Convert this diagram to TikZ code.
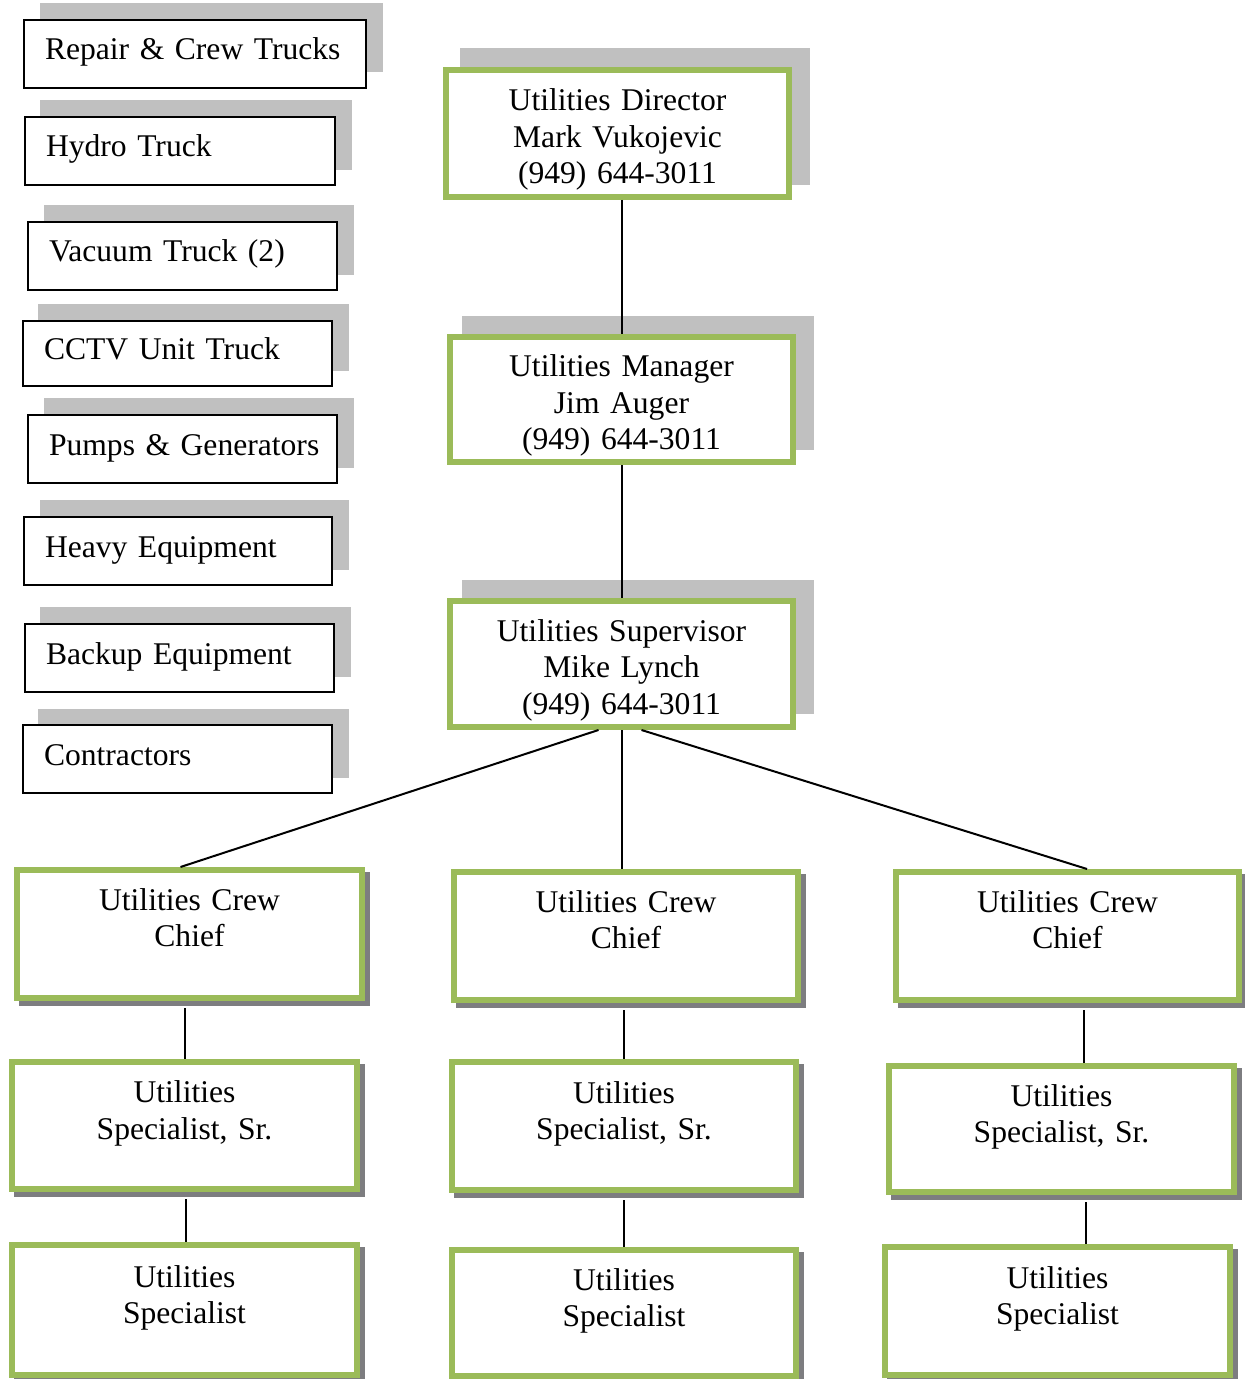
\documentclass[tikz,border=0pt]{standalone}
\usepackage{fontspec}
\setmainfont{Liberation Serif}
\usetikzlibrary{calc}
\definecolor{grn}{RGB}{155,187,89}
\definecolor{shlt}{RGB}{192,192,192}
\definecolor{shdk}{RGB}{125,125,128}
\begin{document}
\begin{tikzpicture}[x=0.5pt,y=-0.5pt,
  txt/.style={font=\fontsize{15.8}{18.2}\selectfont},
  eqbox/.style={txt, draw=black, line width=1.2pt, fill=white, rectangle,
    inner xsep=0pt, inner ysep=0pt, minimum height=34pt, text width=#1,
    align=left, text height=10pt, text depth=4pt},
  gbox/.style={txt, draw=grn, line width=3pt, fill=white, rectangle,
    inner sep=0pt, text width=#1, align=center, text height=18pt},
  shl/.style={fill=shlt},
  shd/.style={fill=shdk},
  conn/.style={draw=black, line width=1pt}]
\useasboundingbox (0,0) rectangle (1244,1379);
\fill[white] (0,0) rectangle (1244,1379);

% ---- shadows of equipment boxes
\fill[shl] (40,3) rectangle (383,72);
\fill[shl] (40,100) rectangle (352,170);
\fill[shl] (44,205) rectangle (354,275);
\fill[shl] (38,304) rectangle (349,371);
\fill[shl] (44,398) rectangle (354,468);
\fill[shl] (40,500) rectangle (349,570);
\fill[shl] (40,607) rectangle (351,677);
\fill[shl] (38,709) rectangle (349,778);

% ---- shadows of upper green boxes
\fill[shl] (460,48) rectangle (810,185);
\fill[shl] (462,316) rectangle (814,450);
\fill[shl] (462,580) rectangle (814,714);

% ---- shadows of lower green boxes
\fill[shd] (19,872) rectangle (370,1006);
\fill[shd] (456,874) rectangle (806,1008);
\fill[shd] (898,874) rectangle (1247,1008);
\fill[shd] (14,1064) rectangle (365,1197);
\fill[shd] (454,1064) rectangle (804,1198);
\fill[shd] (891,1068) rectangle (1242,1200);
\fill[shd] (14,1247) rectangle (365,1385);
\fill[shd] (454,1252) rectangle (804,1385);
\fill[shd] (887,1249) rectangle (1238,1385);

% ---- equipment boxes
\node[eqbox=171pt] (e1) at (195,54) {\hspace*{10.5pt}\mbox{Repair \& Crew Trucks}};
\node[eqbox=155pt] (e2) at (180,151) {\hspace*{10.5pt}\mbox{Hydro Truck}};
\node[eqbox=154.5pt] (e3) at (182.5,256) {\hspace*{10.5pt}\mbox{Vacuum Truck (2)}};
\node[eqbox=154.5pt, minimum height=32.5pt] (e4) at (177.5,353.5) {\hspace*{10.5pt}\mbox{CCTV Unit Truck}};
\node[eqbox=154.5pt] (e5) at (182.5,449) {\hspace*{10.5pt}\mbox{Pumps \& Generators}};
\node[eqbox=154pt] (e6) at (178,551) {\hspace*{10.5pt}\mbox{Heavy Equipment}};
\node[eqbox=154.5pt] (e7) at (179.5,658) {\hspace*{10.5pt}\mbox{Backup Equipment}};
\node[eqbox=154.5pt] (e8) at (177.5,759) {\hspace*{10.5pt}\mbox{Contractors}};

% ---- management boxes
\node[gbox=171.5pt, minimum height=63.5pt, text height=17pt] (dir) at (617.5,133.5)
  {Utilities Director\\Mark Vukojevic\\(949) 644-3011};
\node[gbox=171.5pt, minimum height=62.5pt, text height=17pt] (man) at (621.5,399.5)
  {Utilities Manager\\Jim Auger\\(949) 644-3011};
\node[gbox=171.5pt, minimum height=63pt, text height=17pt] (sup) at (621.5,664)
  {Utilities Supervisor\\Mike Lynch\\(949) 644-3011};

% ---- crew chiefs
\node[gbox=172.5pt, minimum height=64pt] (c1) at (189.5,934)
  {Utilities Crew\\Chief\\\strut};
\node[gbox=172pt, minimum height=64pt] (c2) at (626,936)
  {Utilities Crew\\Chief\\\strut};
\node[gbox=171.5pt, minimum height=64pt] (c3) at (1067.5,936)
  {Utilities Crew\\Chief\\\strut};

% ---- senior specialists
\node[gbox=172.5pt, minimum height=63.5pt, text height=19pt] (s1) at (184.5,1125.5)
  {Utilities\\Specialist, Sr.\\\strut};
\node[gbox=172pt, minimum height=64pt, text height=19pt] (s2) at (624,1126)
  {Utilities\\Specialist, Sr.\\\strut};
\node[gbox=172.5pt, minimum height=63pt, text height=19pt] (s3) at (1061.5,1129)
  {Utilities\\Specialist, Sr.\\\strut};

% ---- specialists
\node[gbox=172.5pt, minimum height=65pt, text height=19pt] (p1) at (184.5,1310)
  {Utilities\\Specialist\\\strut};
\node[gbox=172pt, minimum height=63pt, text height=19pt] (p2) at (624,1313)
  {Utilities\\Specialist\\\strut};
\node[gbox=172.5pt, minimum height=64pt, text height=19pt] (p3) at (1057.5,1311)
  {Utilities\\Specialist\\\strut};

% ---- connectors
\draw[conn] (man.north |- dir.south) -- (man.north);
\draw[conn] (man.south) -- (sup.north);
\draw[conn] ($(sup.south)+(-23,0)$) -- ($(c1.north)+(-9,0)$);
\draw[conn] (sup.south) -- (sup.south |- c2.north);
\draw[conn] ($(sup.south)+(20,0)$) -- ($(c3.north)+(19.5,0)$);
\draw[conn, shorten <=3.5pt] (s1.north |- c1.south) -- (s1.north);
\draw[conn, shorten <=3.5pt] (s2.north |- c2.south) -- (s2.north);
\draw[conn, shorten <=3.5pt] ($(c3.south)+(16.5,0)$) -- ($(s3.north)+(22.5,0)$);
\draw[conn, shorten <=3.5pt] ($(s1.south)+(1.5,0)$) -- ($(p1.north)+(1.5,0)$);
\draw[conn, shorten <=3.5pt] (s2.south) -- (p2.north);
\draw[conn, shorten <=3.5pt] ($(s3.south)+(24.5,0)$) -- ($(p3.north)+(28.5,0)$);
\end{tikzpicture}
\end{document}
